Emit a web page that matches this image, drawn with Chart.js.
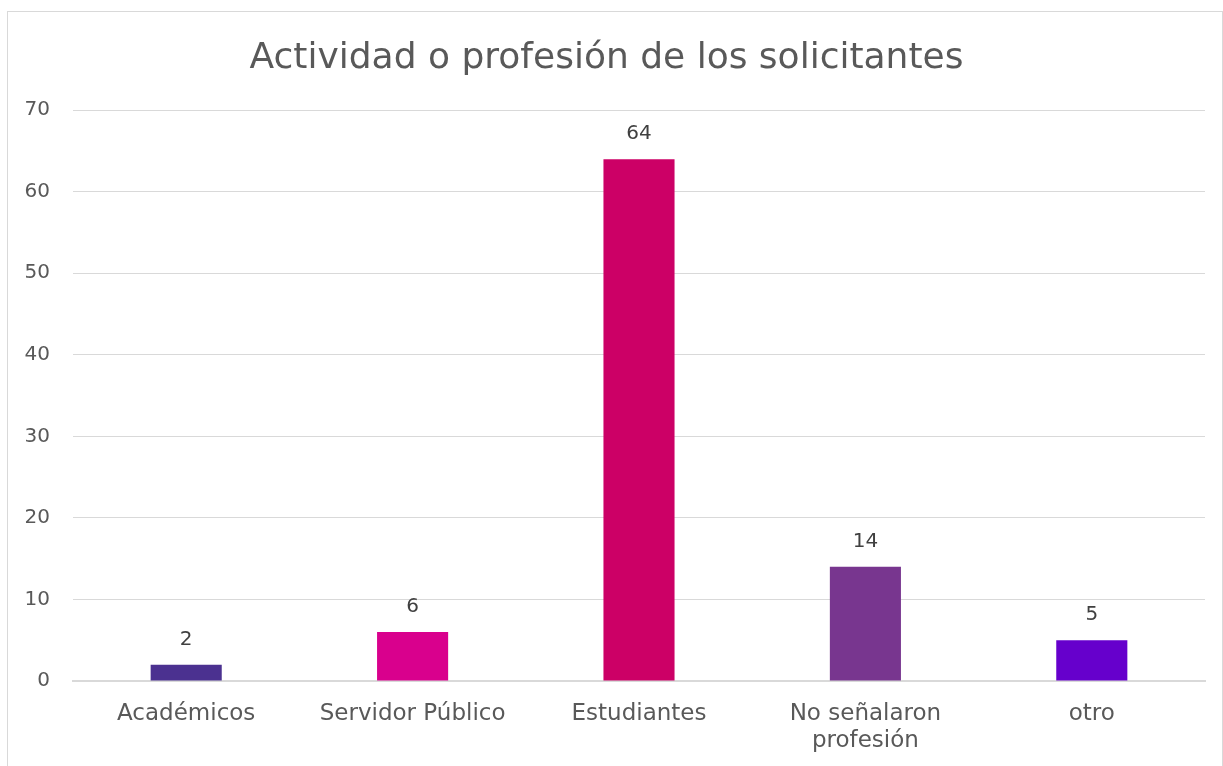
<!DOCTYPE html>
<html>
<head>
<meta charset="utf-8">
<script src="https://cdn.jsdelivr.net/npm/chart.js@4/dist/chart.umd.min.js"></script>
<style>
  body { margin: 0; background: #fff; overflow: hidden; }
  #box { position: absolute; left: 7px; top: 11px; width: 1214px; height: 770px; border: 1px solid #d9d9d9; background: #fff; }
  canvas { display: block; }
</style>
</head>
<body>
<div id="box"><canvas id="chart" width="1214" height="770"></canvas></div>
<script>
// datos del gráfico
const categories = ['Académicos', 'Servidor Público', 'Estudiantes', ['No señalaron', 'profesión'], 'otro'];
const values = [2, 6, 64, 14, 5];
const barColors = ['#4b3190', '#d9008d', '#cc0066', '#78368f', '#6600cc'];
const yTicks = [0, 10, 20, 30, 40, 50, 60, 70];

const FONT = "'DejaVu Sans', sans-serif";

// etiquetas de valor encima de cada barra
const valueLabels = {
  id: 'valueLabels',
  afterDatasetsDraw(chart) {
    const ctx = chart.ctx;
    const meta = chart.getDatasetMeta(0);
    ctx.save();
    ctx.font = '20px ' + FONT;
    ctx.fillStyle = '#404040';
    ctx.textAlign = 'center';
    ctx.textBaseline = 'middle';
    meta.data.forEach((bar, i) => {
      ctx.fillText(String(values[i]), bar.x, bar.y - 25);
    });
    ctx.restore();
  }
};

new Chart(document.getElementById('chart').getContext('2d'), {
  type: 'bar',
  data: {
    labels: categories,
    datasets: [{
      data: values,
      backgroundColor: barColors,
      borderWidth: 0,
      categoryPercentage: 1,
      barPercentage: 0.314
    }]
  },
  options: {
    responsive: false,
    animation: false,
    layout: { padding: { left: 0, right: 17, top: 0, bottom: 0 } },
    plugins: {
      legend: { display: false },
      tooltip: { enabled: false },
      title: {
        display: true,
        text: 'Actividad o profesión de los solicitantes',
        color: '#595959',
        font: { family: FONT, size: 36, weight: 'normal' },
        padding: { top: 25, bottom: 30 }
      }
    },
    scales: {
      x: {
        grid: { display: false, drawTicks: false },
        border: { display: true, color: '#d9d9d9', width: 2 },
        ticks: { color: '#595959', font: { family: FONT, size: 23, lineHeight: 1.2 }, padding: 19, maxRotation: 0 },
        afterFit(scale) { scale.height = 101; }
      },
      y: {
        min: 0,
        max: 70,
        afterBuildTicks(scale) { scale.ticks = yTicks.map(v => ({ value: v })); },
        grid: { color: '#d9d9d9', lineWidth: 1, drawTicks: false },
        border: { display: false },
        ticks: { color: '#595959', font: { family: FONT, size: 20 }, padding: 23 },
        afterFit(scale) { scale.width = 65; }
      }
    }
  },
  plugins: [valueLabels]
});
</script>
</body>
</html>
